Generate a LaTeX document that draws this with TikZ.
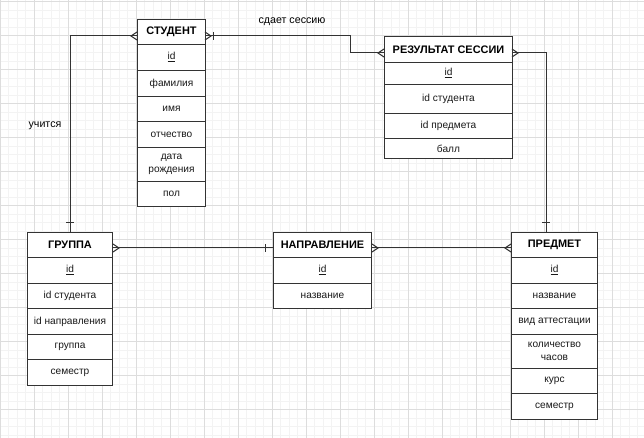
\documentclass[tikz,border=0pt]{standalone}
\usepackage{fontspec}
\setmainfont{Liberation Sans}
\usetikzlibrary{calc}
\definecolor{gridminor}{HTML}{F3F3F3}
\definecolor{gridmajor}{HTML}{DDDDDD}
\definecolor{ink}{HTML}{333333}
\newcommand{\bodyfont}{\fontsize{7.6}{9.8}\selectfont}
\newcommand{\headfont}{\fontsize{8.2}{10}\selectfont\bfseries}
\newcommand{\ercell}[6]{\node[ercellbox, minimum width={#4*0.75pt}, minimum height={(#5-#3)*0.75pt}, anchor=north west] (#1) at (#2,#3) {#6};}
\newcommand{\ercellH}[6]{\node[ercellbox, font=\headfont, text=black, minimum width={#4*0.75pt}, minimum height={(#5-#3)*0.75pt}, anchor=north west] (#1) at (#2,#3) {#6};}
\tikzset{
  ercellbox/.style={draw=ink, line width=0.75pt, inner sep=0pt, align=center, font=\bodyfont, text=black!90, fill=white},
  conn/.style={draw=ink, line width=0.75pt},
  lbl/.style={font=\fontsize{8}{10}\selectfont, text=black, inner sep=0pt},
  crowfoot/.pic={\draw[conn] (0,-4) -- (6,0) -- (0,4);},
  onebar/.pic={\draw[conn] (9,-4) -- (9,4);},
  onebarnear/.pic={\draw[conn] (8,-4) -- (8,4);},
}
\begin{document}
\begin{tikzpicture}[x=0.75pt,y=-0.75pt]
\useasboundingbox (0,0) rectangle (644,438);
\fill[white] (0,0) rectangle (644,438);
% grid
\foreach \i in {0,...,76} {\draw[gridminor, line width=0.75pt] (\i*8.5,0) -- (\i*8.5,438);}
\foreach \j in {0,...,52} {\draw[gridminor, line width=0.75pt] (0,1.7+\j*8.5) -- (644,1.7+\j*8.5);}
\foreach \i in {0,...,19} {\draw[gridmajor, line width=0.75pt] (\i*34,0) -- (\i*34,438);}
\foreach \j in {0,...,13} {\draw[gridmajor, line width=0.75pt] (0,1.7+\j*34) -- (644,1.7+\j*34);}

\coordinate (sL) at (137,36);
\coordinate (sR) at (205,36);
\coordinate (rL) at (384,53);
\coordinate (rR) at (512,53);

% СТУДЕНТ
\ercellH{stuH}{137}{19}{68}{44}{СТУДЕНТ}
\ercell{stuId}{137}{44}{68}{70}{\underline{id}}
\ercell{stuF}{137}{70}{68}{96}{фамилия}
\ercell{stuI}{137}{96}{68}{121}{имя}
\ercell{stuO}{137}{121}{68}{147}{отчество}
\ercell{stuD}{137}{147}{68}{181}{дата\\рождения}
\ercell{stuP}{137}{181}{68}{206}{пол}

% РЕЗУЛЬТАТ СЕССИИ
\ercellH{rH}{384}{36}{128}{62}{РЕЗУЛЬТАТ СЕССИИ}
\ercell{rId}{384}{62}{128}{84}{\underline{id}}
\ercell{rS}{384}{84}{128}{113}{id студента}
\ercell{rP}{384}{113}{128}{138}{id предмета}
\ercell{rB}{384}{138}{128}{158}{балл}

% ГРУППА
\ercellH{gH}{27}{232}{85}{257}{ГРУППА}
\ercell{gId}{27}{257}{85}{283}{\underline{id}}
\ercell{gS}{27}{283}{85}{308}{id студента}
\ercell{gN}{27}{308}{85}{334}{id направления}
\ercell{gG}{27}{334}{85}{359}{группа}
\ercell{gSem}{27}{359}{85}{385}{семестр}

% НАПРАВЛЕНИЕ
\ercellH{nH}{273}{232}{98}{257}{НАПРАВЛЕНИЕ}
\ercell{nId}{273}{257}{98}{283}{\underline{id}}
\ercell{nName}{273}{283}{98}{308}{название}

% ПРЕДМЕТ
\ercellH{pH}{511}{232}{86}{257}{ПРЕДМЕТ}
\ercell{pId}{511}{257}{86}{283}{\underline{id}}
\ercell{pName}{511}{283}{86}{308}{название}
\ercell{pV}{511}{308}{86}{334}{вид аттестации}
\ercell{pK}{511}{334}{86}{368}{количество\\часов}
\ercell{pC}{511}{368}{86}{393}{курс}
\ercell{pSem}{511}{393}{86}{419}{семестр}

% connection points on the tables
\coordinate (gT) at (gH.north);
\coordinate (pT) at (pH.north -| 546,0);
\coordinate (gR) at (gH.east |- 0,248);
\coordinate (nL) at (nH.west |- 0,248);
\coordinate (nR) at (nH.east |- 0,248);
\coordinate (pL) at (pH.west |- 0,248);

\draw[conn] (sL) -| (gT);
\draw[conn] (sR) -- (sR -| 350,0) |- (rL);
\draw[conn] (rR) -| (pT);
\draw[conn] (gR) -- (nL);
\draw[conn] (nR) -- (pL);

% markers
\pic[rotate=180] at (sL) {crowfoot};
\pic at (sR) {crowfoot};
\pic at (sR) {onebarnear};
\pic[rotate=180] at (rL) {crowfoot};
\pic at (rR) {crowfoot};
\pic[rotate=90] at (gT) {onebar};
\pic[rotate=90] at (pT) {onebar};
\pic at (gR) {crowfoot};
\pic[rotate=180] at (nL) {onebarnear};
\pic at (nR) {crowfoot};
\pic[rotate=180] at (pL) {crowfoot};

% labels
\node[lbl] (lblUch) at (45,126) {учится};
\node[lbl] (lblSd) at (292,22) {сдает сессию};
\end{tikzpicture}
\end{document}
